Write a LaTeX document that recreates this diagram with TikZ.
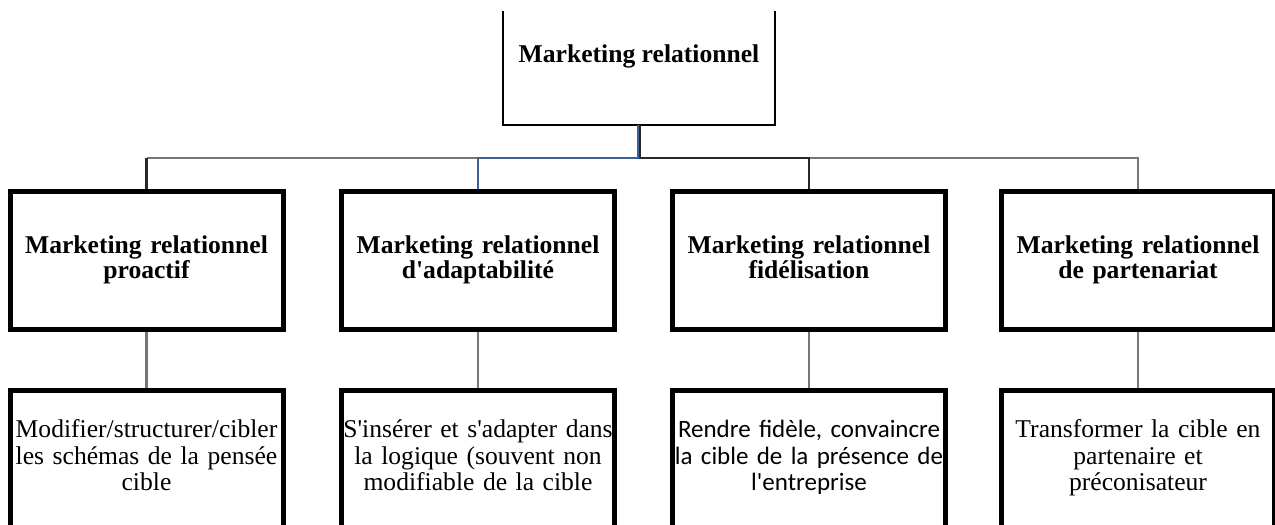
\documentclass[tikz,border=0pt]{standalone}
\usepackage{fontspec}
\setmainfont{Liberation Serif}[Ligatures=TeXOff]
\newfontfamily\sansbody{Carlito}
\usetikzlibrary{calc}

\definecolor{linkgray}{RGB}{118,118,118}
\definecolor{linkdark}{RGB}{40,40,40}
\definecolor{linkblue}{RGB}{62,96,150}

\tikzset{
  rootbox/.style={minimum width=272pt, minimum height=136pt, inner sep=0pt,
    text height=18pt, text depth=6pt,
    font=\fontsize{25.6}{26}\selectfont\bfseries},
  kindbox/.style={draw=black, line width=5pt, minimum width=273pt, minimum height=138pt,
    inner ysep=0pt, inner xsep=-15pt, text width=300pt, align=center,
    text height=18pt, text depth=31pt,
    font=\fontsize{25.6}{25}\selectfont\bfseries},
  goalbox/.style={draw=black, line width=5pt, minimum width=273pt, anchor=north,
    inner xsep=-15pt, inner ysep=29pt, text width=300pt, align=center,
    text height=18pt, text depth=106pt,
    font=\fontsize{25.6}{26.5}\selectfont},
  linkline/.style={line width=2.6pt, color=linkgray},
  rootline/.style={line width=2.4pt, color=linkdark},
  blueline/.style={line width=2.2pt, color=linkblue},
}

\begin{document}
\begin{tikzpicture}[x=1pt, y=-1pt]
  \clip (0,0) rectangle (1275,525);
  \fill[white] (0,0) rectangle (1275,525);

  % root box, open at the top
  \node[rootbox, anchor=south] (root) at (639,125) {Marketing relationnel};
  \draw[line width=2.4pt, black] (root.south west) ++(0,-114) -- (root.south west)
     -- (root.south east) -- ++(0,-114);

  % four kinds of relationship marketing
  \node[kindbox] (k1) at (146.5,260) {Marketing relationnel\\proactif};
  \node[kindbox] (k2) at (478,260) {Marketing relationnel\\d'adaptabilité};
  \node[kindbox] (k3) at (809,260) {Marketing relationnel\\fidélisation};
  \node[kindbox] (k4) at (1138,260) {Marketing relationnel\\de partenariat};

  % what each one aims at
  \node[goalbox] (g1) at (146.5,388) {Modifier/structurer/cibler\\les schémas de la pensée\\cible};
  \node[goalbox] (g2) at (478,388) {S'insérer et s'adapter dans\\la logique (souvent non\\modifiable de la cible\hspace*{8pt}};
  \node[goalbox, font=\fontsize{25}{26.5}\sansbody] (g3) at (809,388) {Rendre fidèle, convaincre\\la cible de la présence de\\l'entreprise};
  \node[goalbox] (g4) at (1138,388) {Transformer la cible en\\partenaire et\\préconisateur};

  % branching bar
  \coordinate (bar) at (640,158);
  \draw[linkline] (k1.north |- bar) -- (k2.north |- bar);
  \draw[rootline] (k1.north) -- (k1.north |- bar);
  \draw[linkline] (k3.north |- bar) -| (k4.north);
  \draw[rootline] ([xshift=1pt]root.south) |- (k3.north |- bar) -- (k3.north);
  \draw[blueline] ([xshift=-1pt]root.south) |- (k2.north |- bar) -- (k2.north);

  % kind to goal links
  \foreach \i in {1,2,3,4} {
    \draw[linkline] (k\i.south) -- (g\i.north);
  }
\end{tikzpicture}
\end{document}
